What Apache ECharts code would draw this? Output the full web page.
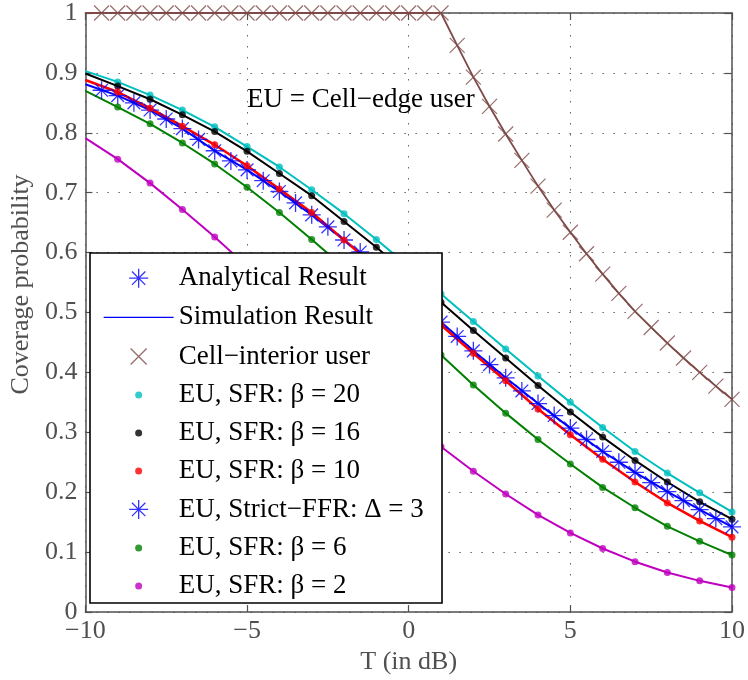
<!DOCTYPE html>
<html>
<head>
<meta charset="utf-8">
<script src="https://cdn.jsdelivr.net/npm/echarts@6/dist/echarts.min.js"></script>
<style>html,body{margin:0;padding:0;background:#fff}#c{width:748px;height:680px}</style>
</head>
<body>
<div id="c"></div>
<script>
// ---------- data ----------
const T = [-10,-9,-8,-7,-6,-5,-4,-3,-2,-1,0,1,2,3,4,5,6,7,8,9,10];
const T_half = [-10,-9.5,-9,-8.5,-8,-7.5,-7,-6.5,-6,-5.5,-5,-4.5,-4,-3.5,-3,-2.5,-2,-1.5,-1,-0.5,0,0.5,1,1.5,2,2.5,3,3.5,4,4.5,5,5.5,6,6.5,7,7.5,8,8.5,9,9.5,10];
const xTicks = [-10,-5,0,5,10];

const beta20 = [0.903,0.885,0.863,0.838,0.810,0.777,0.743,0.705,0.665,0.622,0.577,0.531,0.485,0.439,0.394,0.350,0.308,0.268,0.232,0.199,0.167];
const beta16 = [0.899,0.878,0.856,0.830,0.802,0.769,0.732,0.695,0.652,0.609,0.563,0.517,0.470,0.424,0.378,0.334,0.292,0.253,0.217,0.184,0.155];
const beta10 = [0.888,0.868,0.841,0.811,0.780,0.745,0.706,0.667,0.621,0.575,0.528,0.479,0.432,0.386,0.339,0.296,0.255,0.217,0.182,0.152,0.125];
const beta6  = [0.870,0.843,0.815,0.783,0.748,0.709,0.667,0.622,0.575,0.526,0.477,0.429,0.379,0.332,0.288,0.247,0.208,0.174,0.143,0.118,0.095];
const beta2  = [0.791,0.756,0.716,0.672,0.626,0.577,0.526,0.474,0.422,0.371,0.322,0.276,0.235,0.197,0.162,0.132,0.106,0.084,0.066,0.052,0.041];
const strictSim = [0.881,0.862,0.838,0.807,0.770,0.738,0.702,0.663,0.621,0.578,0.532,0.484,0.436,0.391,0.348,0.307,0.268,0.233,0.201,0.171,0.142];
// analytical strict-FFR, T_half from -9.5
const strictAna = [0.871,0.862,0.850,0.838,0.823,0.807,0.789,0.770,0.753,0.738,0.720,0.702,0.683,0.663,0.643,0.621,0.601,0.578,0.556,0.532,0.508,0.484,0.460,0.436,0.413,0.391,0.369,0.348,0.328,0.307,0.288,0.268,0.250,0.233,0.216,0.201,0.186,0.171,0.156,0.142];
// cell-interior user, T_half from -10
const cellInterior = [1,1,1,1,1,1,1,1,1,1,1,1,1,1,1,1,1,1,1,1,1,1,1,0.946,0.893,0.844,0.798,0.754,0.711,0.671,0.634,0.598,0.564,0.532,0.502,0.475,0.449,0.424,0.400,0.377,0.355];

const legendNames = ['Analytical Result','Simulation Result','Cell\u2212interior user','EU, SFR: \u03b2 = 20','EU, SFR: \u03b2 = 16','EU, SFR: \u03b2 = 10','EU, Strict\u2212FFR: \u0394 = 3','EU, SFR: \u03b2 = 6','EU, SFR: \u03b2 = 2'];

// ---------- styles ----------
const FONT = 'Liberation Serif';
const AX = '#505050';
const C = {cyan:'#00bfbf', black:'#000000', red:'#ff0000', green:'#008000', mag:'#bf00bf', blue:'#0000ff', brown:'#7d4a47'};
const STAR = 'path://M10 0 L10 20 M0 10 L20 10 M2.93 2.93 L17.07 17.07 M2.93 17.07 L17.07 2.93';
const CROSS = 'path://M0 0 L20 20 M0 20 L20 0';
const PAD = 'M0 0 M70 27 ';
const iconDot = 'path://' + PAD + 'M38.5 13.5 A3.5 3.5 0 1 1 31.5 13.5 A3.5 3.5 0 1 1 38.5 13.5 Z';
const iconStar = 'path://' + PAD + 'M35 4 L35 23 M25.5 13.5 L44.5 13.5 M28.3 6.8 L41.7 20.2 M28.3 20.2 L41.7 6.8';
const iconCross = 'path://' + PAD + 'M27 5.5 L43 21.5 M27 21.5 L43 5.5';
const iconLine = 'path://' + PAD + 'M0 13.5 L70 13.5';

const pairs = (xs, ys) => xs.map((x, i) => [x, ys[i]]);

function simLine(name, ys, color, w) {
  return {type:'line', name, data:pairs(T, ys), showSymbol:false, symbol:'none', clip:false,
    lineStyle:{color, width:w}, itemStyle:{color}, silent:true, z:2};
}
function dots(name, ys, color) {
  return {type:'scatter', name, data:pairs(T.slice(1), ys.slice(1)), symbol:'circle', symbolSize:7,
    clip:false, itemStyle:{color}, silent:true, z:3};
}

const series = [];
series.push({type:'line', name:'sim-ci', data:pairs(T_half, cellInterior), showSymbol:false, symbol:'none', clip:false, lineStyle:{color:C.brown, width:1.8}, itemStyle:{color:C.brown}, silent:true, z:2});
series.push({type:'scatter', name:legendNames[2], data:pairs(T_half.slice(1), cellInterior.slice(1)), symbol:CROSS, symbolSize:15, clip:false, itemStyle:{color:'rgba(0,0,0,0)', borderColor:C.brown, borderWidth:1.2}, silent:true, z:3});
series.push(simLine('sim-20', beta20, C.cyan, 2), dots(legendNames[3], beta20, C.cyan));
series.push(simLine('sim-16', beta16, C.black, 2), dots(legendNames[4], beta16, C.black));
series.push(simLine(legendNames[1], strictSim, C.blue, 2));
series.push({type:'scatter', name:legendNames[6], data:pairs(T_half.slice(1), strictAna), symbol:STAR, symbolSize:18, clip:false, itemStyle:{color:'rgba(0,0,0,0)', borderColor:C.blue, borderWidth:1.3}, silent:true, z:3});
series.push({type:'scatter', name:legendNames[0], data:[], symbol:STAR, symbolSize:18, itemStyle:{color:'rgba(0,0,0,0)', borderColor:C.blue, borderWidth:1.3}});
series.push(simLine('sim-10', beta10, C.red, 2.6), dots(legendNames[5], beta10, C.red));
series.push(simLine('sim-6', beta6, C.green, 2), dots(legendNames[7], beta6, C.green));
series.push(simLine('sim-2', beta2, C.mag, 2), dots(legendNames[8], beta2, C.mag));
series.forEach(s => { s.xAxisIndex = 0; s.yAxisIndex = 0; });

const strokeIcon = (col) => ({color:'rgba(0,0,0,0)', borderColor:col, borderWidth:1.3});
const fillIcon = (col) => ({color:col, borderWidth:0});
const legendData = [
  {name:legendNames[0], icon:iconStar, itemStyle:strokeIcon(C.blue)},
  {name:legendNames[1], icon:iconLine, itemStyle:strokeIcon(C.blue)},
  {name:legendNames[2], icon:iconCross, itemStyle:strokeIcon(C.brown)},
  {name:legendNames[3], icon:iconDot, itemStyle:fillIcon(C.cyan)},
  {name:legendNames[4], icon:iconDot, itemStyle:fillIcon(C.black)},
  {name:legendNames[5], icon:iconDot, itemStyle:fillIcon(C.red)},
  {name:legendNames[6], icon:iconStar, itemStyle:strokeIcon(C.blue)},
  {name:legendNames[7], icon:iconDot, itemStyle:fillIcon(C.green)},
  {name:legendNames[8], icon:iconDot, itemStyle:fillIcon(C.mag)}
];

const axisCommon = {
  axisLine:{show:true, onZero:false, lineStyle:{color:AX, width:1.5}},
  axisTick:{show:true, inside:true, length:7, lineStyle:{color:AX, width:1.2}},
};

const option = {
  backgroundColor:'#fff',
  animation:false,
  grid:{left:80, right:14, top:12, bottom:68, containLabel:false},
  xAxis:[
    Object.assign({type:'value', min:-10, max:10, interval:5, position:'bottom',
      axisLabel:{show:true, margin:6, color:AX, fontSize:26, fontFamily:FONT,
        formatter:v => xTicks.includes(v) ? String(v).replace('-', '\u2212') : ''},
      splitLine:{show:true, lineStyle:{color:'#666', width:1, type:[1.5,9.5]}},
      name:'T (in dB)', nameLocation:'middle', nameGap:32,
      nameTextStyle:{color:AX, fontSize:26, fontFamily:FONT}}, axisCommon),
    Object.assign({type:'value', min:-10, max:10, interval:5, position:'top',
      axisLabel:{show:false}, splitLine:{show:false}}, axisCommon)
  ],
  yAxis:[
    Object.assign({type:'value', min:0, max:1, interval:0.1, position:'left',
      axisLabel:{show:true, margin:8, color:AX, fontSize:26, fontFamily:FONT},
      splitLine:{show:true, lineStyle:{color:'#666', width:1, type:[1.5,9.5]}},
      name:'Coverage probability', nameLocation:'middle', nameGap:51,
      nameTextStyle:{color:AX, fontSize:26, fontFamily:FONT, padding:[0,0,0,56]}}, axisCommon),
    Object.assign({type:'value', min:0, max:1, interval:0.1, position:'right',
      axisLabel:{show:false}, splitLine:{show:false}}, axisCommon)
  ],
  legend:{
    data:legendData, orient:'vertical', left:103, top:264, padding:0,
    itemWidth:70, itemHeight:27, itemGap:10.9, selectedMode:false,
    textStyle:{color:'#000', fontSize:27, fontFamily:FONT},
    z:101
  },
  graphic:[
    {type:'rect', z:100, shape:{x:90, y:253, width:352, height:350},
     style:{fill:'#fff', stroke:'#000', lineWidth:1.6}},
    {type:'text', z:100, left:247, top:86,
     style:{text:'EU = Cell\u2212edge user', fill:'#000', font:'27px "Liberation Serif"'}}
  ],
  series
};

const chart = echarts.init(document.getElementById('c'), null, {renderer:'canvas'});
chart.setOption(option);
</script>
</body>
</html>
